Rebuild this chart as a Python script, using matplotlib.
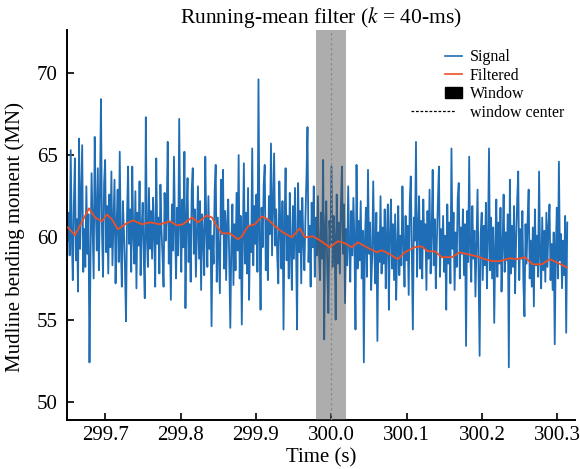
import numpy as np
import matplotlib
matplotlib.use('Agg')
import matplotlib.pyplot as plt
from matplotlib.patches import Patch
from matplotlib.lines import Line2D
from matplotlib.legend_handler import HandlerLine2D

plt.rcParams['font.family'] = 'Liberation Serif'
plt.rcParams['mathtext.fontset'] = 'stix'

# signal samples (MN), read by eye, evenly spaced between t_start and t_end
t_start, t_end = 299.650, 300.313
signal = [
    59.8, 61.5, 58.9, 65.3, 60.2, 57.4, 62.0, 64.8, 58.6, 61.1, 56.7, 66.0, 59.3, 62.4, 65.6, 57.9, 60.5, 58.2, 63.1, 59.0,
    61.4, 52.4, 58.8, 63.9, 60.7, 57.5, 66.1, 61.8, 59.2, 64.2, 58.0, 62.5, 68.4, 60.3, 57.6, 63.3, 64.7, 59.1, 61.9, 57.8,
    62.6, 59.4, 64.0, 58.3, 61.0, 63.5, 57.2, 60.8, 62.9, 58.5, 65.2, 59.7, 57.0, 62.2, 60.4, 58.1, 54.9, 61.3, 64.3, 59.6,
    61.7, 57.9, 64.3, 60.1, 58.4, 62.8, 56.9, 61.5, 59.5, 63.4, 57.7, 60.6, 62.1, 58.8, 56.3, 67.3, 60.0, 58.2, 63.0, 59.3,
    61.6, 58.7, 62.4, 60.2, 57.0, 64.8, 59.6, 61.2, 57.8, 63.2, 60.5, 58.9, 57.0, 62.7, 59.8, 61.4, 65.8, 58.4, 60.9, 56.2,
    62.0, 59.2, 64.9, 60.4, 57.5, 61.8, 58.9, 67.2, 60.6, 57.9, 62.3, 59.4, 65.2, 55.7, 61.1, 63.6, 58.5, 60.8, 57.3, 62.9,
    64.2, 59.0, 61.7, 57.6, 60.3, 63.1, 58.7, 62.2, 56.8, 61.4, 59.9, 57.7, 64.9, 60.6, 58.2, 62.5, 59.3, 61.0, 54.6, 60.1,
    58.4, 62.8, 64.4, 57.3, 61.2, 59.0, 56.6, 63.5, 60.2, 64.1, 58.1, 61.6, 57.4, 60.9, 62.3, 58.6, 54.5, 59.7, 62.0, 57.1,
    60.8, 58.0, 62.7, 59.2, 65.0, 57.5, 61.3, 54.7, 59.9, 64.5, 58.4, 61.5, 57.8, 63.0, 56.2, 60.7, 59.1, 65.4, 58.3, 61.9,
    59.6, 62.6, 57.9, 69.6, 60.1, 55.6, 61.8, 59.4, 63.2, 64.4, 58.0, 61.1, 57.4, 62.5, 60.2, 65.7, 58.9, 62.0, 65.1, 59.5,
    61.7, 58.8, 57.2, 63.4, 60.5, 58.1, 62.2, 54.4, 60.9, 64.2, 58.6, 61.3, 57.5, 62.7, 59.3, 56.8, 61.9, 58.7, 63.0, 59.6,
    54.4, 63.3, 59.1, 61.6, 57.2, 62.4, 59.8, 58.0, 61.1, 63.6, 66.7, 58.5, 60.7, 57.0, 62.1, 59.4, 63.1, 57.6, 61.2, 58.9,
    62.5, 59.2, 57.4, 61.5, 58.7, 64.7, 53.8, 60.6, 62.2, 57.9, 55.4, 61.0, 59.6, 64.3, 58.2, 61.3, 60.0, 55.0, 62.6, 58.4,
    60.9, 57.8, 61.8, 64.3, 59.0, 62.0, 56.0, 60.5, 58.3, 63.1, 59.5, 57.3, 61.6, 58.9, 62.4, 59.7, 54.4, 64.4, 58.1, 61.0,
    58.6, 62.2, 57.5, 60.4, 52.4, 59.7, 61.8, 57.6, 64.1, 59.0, 60.9, 56.8, 58.8, 63.4, 59.3, 57.2, 61.5, 53.7, 60.3, 58.5,
    62.5, 57.8, 60.6, 58.4, 61.7, 56.9, 59.9, 62.0, 55.6, 60.2, 62.3, 58.1, 60.8, 57.4, 61.4, 56.2, 59.5, 61.9, 57.7, 60.1,
    58.3, 63.1, 59.6, 57.0, 61.3, 58.6, 60.7, 56.5, 62.1, 63.7, 58.9, 54.4, 61.2, 59.8, 65.8, 57.6, 60.4, 62.5, 58.1, 61.0,
    57.5, 62.3, 59.4, 60.8, 56.8, 61.6, 58.7, 62.9, 57.8, 60.2, 64.1, 58.3, 61.1, 56.9, 59.8, 62.2, 64.3, 57.6, 60.5, 58.8,
    61.3, 57.9, 60.1, 55.6, 62.0, 58.4, 60.9, 57.2, 65.4, 59.3, 61.5, 56.8, 60.3, 58.2, 62.4, 63.3, 57.5, 60.6, 59.0, 61.7,
    57.7, 60.8, 53.4, 61.6, 58.5, 64.9, 59.1, 57.3, 61.9, 58.7, 60.4, 56.4, 59.6, 62.9, 58.0, 52.8, 60.2, 61.5, 57.4, 60.7,
    58.3, 62.1, 56.9, 59.8, 65.4, 58.0, 61.2, 57.5, 60.6, 54.8, 59.4, 62.3, 57.6, 60.9, 58.4, 61.8, 56.7, 59.5, 62.6, 57.9,
    60.3, 58.6, 61.4, 52.1, 63.5, 57.8, 60.7, 58.2, 61.9, 56.6, 59.9, 62.2, 64.0, 57.4, 60.5, 58.7, 61.6, 57.1, 55.2, 60.8,
    58.4, 61.0, 62.9, 57.5, 59.8, 57.0, 60.6, 55.8, 61.7, 58.3, 60.1, 57.6, 64.0, 58.8, 56.9, 61.2, 58.0, 60.4, 57.3, 61.5,
    58.2, 60.7, 62.0, 57.4, 59.6, 56.8, 60.3, 53.5, 59.1, 61.8, 57.5, 64.6, 58.6, 60.2, 56.9, 59.8, 57.7, 61.3, 54.2, 60.9,
]

# running mean
filt_t = [299.6505, 299.6598, 299.6784, 299.6863, 299.6956, 299.7023, 299.7089, 299.7168, 299.7261, 299.7367,
          299.7487, 299.7593, 299.7725, 299.7858, 299.7951, 299.8031, 299.8150, 299.8229, 299.8349, 299.8415,
          299.8481, 299.8548, 299.8654, 299.8760, 299.8813, 299.8893, 299.8985, 299.9078, 299.9158, 299.9251,
          299.9357, 299.9476, 299.9582, 299.9649, 299.9755, 299.9847, 299.9980, 300.0086, 300.0179, 300.0272,
          300.0351, 300.0471, 300.0603, 300.0670, 300.0776, 300.0882, 300.0975, 300.1107, 300.1200, 300.1280,
          300.1373, 300.1466, 300.1598, 300.1704, 300.1810, 300.1930, 300.2036, 300.2142, 300.2235, 300.2367,
          300.2460, 300.2566, 300.2672, 300.2792, 300.2898, 300.2991, 300.3123]
filt_v = [60.60, 60.12, 61.76, 61.21, 60.97, 61.39, 61.09, 60.48, 60.79, 61.03,
          60.79, 60.91, 60.79, 60.97, 60.73, 60.79, 61.21, 60.91, 61.33, 61.21,
          60.67, 60.24, 60.24, 59.88, 60.06, 60.67, 60.79, 61.27, 61.09, 60.67,
          60.30, 60.00, 60.55, 60.00, 60.06, 59.82, 59.39, 59.76, 59.64, 59.39,
          59.70, 59.39, 59.09, 59.21, 58.97, 58.67, 59.09, 59.40, 59.45, 59.15,
          59.15, 58.79, 58.79, 59.09, 58.97, 58.85, 58.67, 58.55, 58.55, 58.73,
          58.67, 58.79, 58.36, 58.36, 58.67, 58.48, 58.18]

win_center = 300.0
win_width = 0.04

blue = '#1f6db4'
red = '#ee4f26'


class LongDashHandler(HandlerLine2D):
    # dashed legend entry reaching further left than the others
    def create_artists(self, legend, orig_handle, xdescent, ydescent, width, height, fontsize, trans):
        y = height / 2 - ydescent
        line = Line2D([-xdescent - 1.9 * width, -xdescent + 0.6 * width], [y, y])
        self.update_prop(line, orig_handle, legend)
        line.set_transform(trans)
        return [line]


t = np.linspace(t_start, t_end, len(signal))

fig = plt.figure(figsize=(5.8, 4.69), dpi=100)
ax = fig.add_axes([0.116, 0.1045, 0.875, 0.8316])

ax.plot(t, signal, color=blue, lw=1.3, zorder=2)
ax.plot(filt_t, filt_v, color=red, lw=1.3, zorder=4)
ax.axvspan(win_center - win_width / 2, win_center + win_width / 2, color='#4a4a4a', alpha=0.45, lw=0, zorder=3)
ax.axvline(win_center, color='#8a8a8a', ls=(0, (2, 2)), lw=0.9, zorder=5)

ax.set_xlim(299.6496, 300.323)
ax.set_ylim(48.9, 72.6)
ax.set_xticks([299.7, 299.8, 299.9, 300.0, 300.1, 300.2, 300.3])
ax.set_xticklabels(['299.7', '299.8', '299.9', '300.0', '300.1', '300.2', '300.3'])
ax.set_yticks([50, 55, 60, 65, 70])
ax.tick_params(direction='in', labelsize=15, length=5, width=1.2)
ax.tick_params(axis='x', pad=4)
ax.tick_params(axis='y', pad=7)
ax.spines['top'].set_visible(False)
ax.spines['right'].set_visible(False)
ax.spines['left'].set_linewidth(1.4)
ax.spines['bottom'].set_linewidth(1.4)

ax.set_title('Running-mean filter ($k$ = 40-ms)', fontsize=15.5, pad=4)
ax.set_xlabel('Time (s)', fontsize=15, labelpad=3)
ax.set_ylabel('Mudline bending moment (MN)', fontsize=15)
ax.yaxis.set_label_coords(-0.083, 0.47)

dash_handle = Line2D([], [], color='black', ls=(0, (2.2, 1.4)), lw=0.9)
handles = [Line2D([], [], color=blue, lw=1.2),
           Line2D([], [], color=red, lw=1.2),
           Patch(color='black'),
           dash_handle]
ax.legend(handles, ['Signal', 'Filtered', 'Window', 'window center'], loc='upper left',
          bbox_to_anchor=(0.744, 0.950), frameon=False, fontsize=11.5, handlelength=1.1,
          labelspacing=0.15, handletextpad=0.45, borderpad=0, borderaxespad=0,
          handler_map={dash_handle: LongDashHandler()})

fig.savefig('out.png', dpi=100)
